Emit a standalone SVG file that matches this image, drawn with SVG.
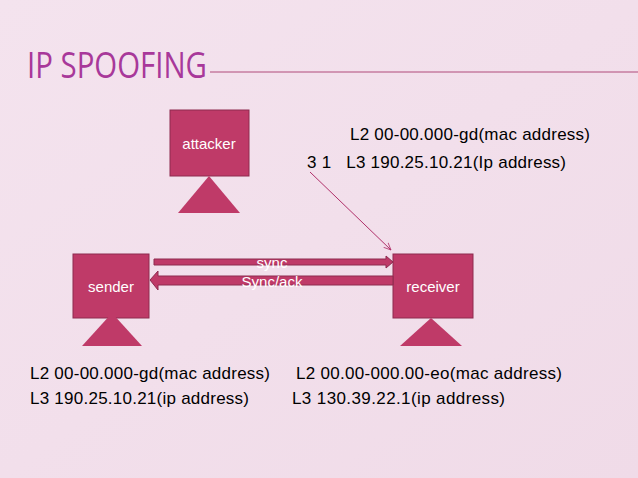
<svg xmlns="http://www.w3.org/2000/svg" width="638" height="478" viewBox="0 0 638 478">
<style>
.box{fill:#bf3a68;stroke:#8e2a4f;stroke-width:1}
.tri{fill:#bf3a68}
.lbl{font-family:"Liberation Sans",Arial,sans-serif;font-size:15px;fill:#fff;text-anchor:middle}
.t{font-family:"Liberation Sans",Arial,sans-serif;font-size:17px;fill:#000}
</style>
<defs>
<linearGradient id="bg" x1="0" y1="0" x2="1" y2="1">
<stop offset="0" stop-color="#f4e3ee"/><stop offset="1" stop-color="#f0dbe8"/>
</linearGradient>
<marker id="ah" viewBox="0 0 10 10" refX="9" refY="5" markerWidth="8" markerHeight="8" orient="auto"><path d="M0,1 L9,5 L0,9" fill="none" stroke="#b0306a" stroke-width="1"/></marker>
</defs>
<rect width="638" height="478" fill="url(#bg)"/>
<text x="27" y="78" font-family="'Open Sans','Liberation Sans',sans-serif" font-size="36" fill="#a8389a" textLength="180" lengthAdjust="spacingAndGlyphs">IP SPOOFING</text>
<line x1="210" y1="72" x2="638" y2="72" stroke="#b04a7a" stroke-width="1"/>
<text class="t" x="350" y="140" textLength="240">L2 00-00.000-gd(mac address)</text>
<text class="t" x="307" y="168" xml:space="preserve" textLength="259">3 1   L3 190.25.10.21(Ip address)</text>
<g id="attacker">
<rect class="box" x="170" y="110" width="79" height="66"/>
<text class="lbl" x="209" y="149">attacker</text>
<polygon class="tri" points="209,176 240,213 178,213"/>
</g>
<g id="sender">
<rect class="box" x="73" y="254" width="76" height="64"/>
<text class="lbl" x="111" y="292">sender</text>
<polygon class="tri" points="112,313 142,346 82,346"/>
</g>
<g id="receiver">
<rect class="box" x="393" y="254" width="80" height="64"/>
<text class="lbl" x="433" y="292">receiver</text>
<polygon class="tri" points="431,318 462,346 400,346"/>
</g>
<g id="connectors">
<line x1="310" y1="172" x2="391" y2="250" stroke="#b0306a" stroke-width="1" marker-end="url(#ah)"/>
<polygon class="box" points="154,259 386,259 386,256 393,262 386,268 386,265 154,265"/>
<polygon class="box" points="393,276 158,276 158,271 150,280 158,290 158,285 393,285"/>
<text class="lbl" x="272" y="268">sync</text>
<text class="lbl" x="272" y="287">Sync/ack</text>
</g>
<text class="t" x="30" y="379" textLength="240">L2 00-00.000-gd(mac address)</text>
<text class="t" x="296" y="379" textLength="266">L2 00.00-000.00-eo(mac address)</text>
<text class="t" x="30" y="404" textLength="219">L3 190.25.10.21(ip address)</text>
<text class="t" x="292" y="404" textLength="213">L3 130.39.22.1(ip address)</text>
</svg>
